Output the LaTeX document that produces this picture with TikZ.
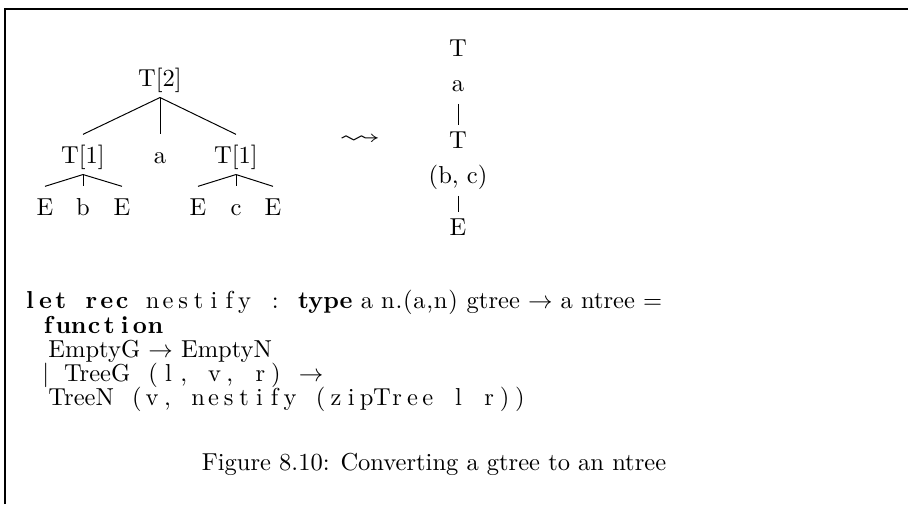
\documentclass[tikz,border=0pt]{standalone}
\usepackage{fontspec}
\usepackage{amssymb}
\usepackage{graphicx}

% fixed-width columns, as a listing sets them
\newlength\colw
\setlength\colw{6.25pt}
\newcommand\cols[1]{\colsloop#1\relax}
\def\colsloop#1{\ifx\relax#1\else\makebox[\colw]{#1}\expandafter\colsloop\fi}
% light letter spacing
\newcommand\lsp[1]{\lsploop#1\relax}
\def\lsploop#1{\ifx\relax#1\else#1\kern0.3pt\relax\expandafter\lsploop\fi}

\begin{document}
\begin{tikzpicture}[
    x=0.408pt, y=-0.408pt,
    tnode/.style={anchor=base, inner sep=2.5pt, text height=9pt, text depth=2pt},
    col/.style={anchor=base, inner sep=2.5pt, text height=6.8pt, text depth=2.5pt},
    code/.style={anchor=base west, inner sep=0pt},
    edge/.style={line width=0.4pt},
  ]
  \useasboundingbox (0,0) rectangle (908,504);

  % frame (only top and left visible)
  \draw[line width=0.5pt] (5,504) -- (5,9) -- (908,9);

  % gtree on the left
  \node[tnode] (root) at (160,86) {T[2]};
  \node[tnode] (lt)   at (83,163)  {T[1]};
  \node[tnode] (va)   at (160,163) {a};
  \node[tnode] (rt)   at (236,163) {T[1]};
  \node[tnode] (le1)  at (45,215)  {E};
  \node[tnode] (lb)   at (83,215)  {b};
  \node[tnode] (le2)  at (122,215) {E};
  \node[tnode] (re1)  at (198,215) {E};
  \node[tnode] (rc)   at (236,215) {c};
  \node[tnode] (re2)  at (273,215) {E};

  \foreach \child in {lt,va,rt} \draw[edge] (root.south) -- (\child.north);
  \foreach \child in {le1,lb,le2} \draw[edge] (lt.south) -- (\child.north);
  \foreach \child in {re1,rc,re2} \draw[edge] (rt.south) -- (\child.north);

  % leads to
  \node (leads) at (360,140) {\scalebox{1.7}[1]{$\leadsto$}};

  % ntree on the right
  \node[col] (nt1) at (458,56)  {T};
  \node[col] (na)  at (458,91)  {a};
  \node[col] (nt2) at (458,148) {T};
  \node[col] (nbc) at (458,183) {(b, c)};
  \node[col] (ne)  at (458,235) {E};
  \draw[edge] (na) -- (nt2);
  \draw[edge] (nbc) -- (ne);

  % code
  \node[code] (c1) at (22,308) {{\bfseries\cols{let~rec}}\cols{~nestify~:~}\textbf{type} a \lsp{n.(a,n)} gtree $\rightarrow$ a ntree =};
  \node[code] (c2) at (40,333) {{\bfseries\cols{function}}};
  \node[code] (c3) at (48,357) {EmptyG $\rightarrow$ EmptyN};
  \node[code] (c4) at (42,381) {$|$\hspace{6pt}TreeG\cols{~(l,~v,~r)~}$\rightarrow$};
  \node[code] (c5) at (48,405) {TreeN\cols{~(v,~nestify~(zipTree~l~r))}};

  % caption
  \node[anchor=base] (cap) at (434,470) {Figure 8.10: Converting a gtree to an ntree};
\end{tikzpicture}
\end{document}
